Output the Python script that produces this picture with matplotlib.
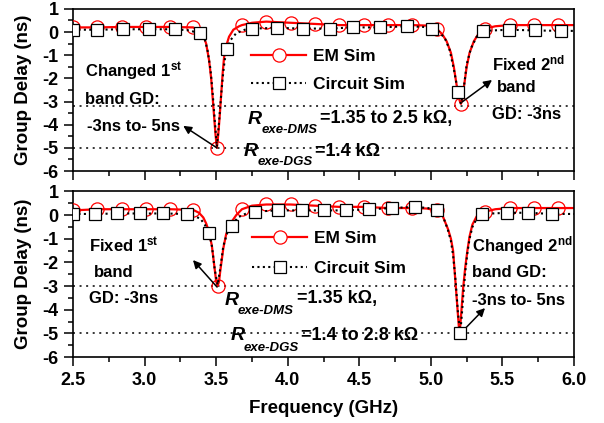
import matplotlib
matplotlib.use('Agg')
import matplotlib.pyplot as plt
from matplotlib.lines import Line2D
from matplotlib.ticker import MultipleLocator

plt.rcParams['font.family'] = ['Liberation Sans', 'DejaVu Sans']
plt.rcParams['font.weight'] = 'bold'
plt.rcParams['axes.unicode_minus'] = False
plt.rcParams['mathtext.fontset'] = 'custom'
plt.rcParams['mathtext.rm'] = 'Liberation Sans:bold'
plt.rcParams['mathtext.it'] = 'Liberation Sans:italic:bold'
plt.rcParams['mathtext.bf'] = 'Liberation Sans:bold'

# ---- dados (GHz, ns) ----
# grafico de cima: 1a banda variando, 2a banda fixa
f_em_top = [2.5, 2.67, 2.84, 3.01, 3.18, 3.34, 3.38, 3.41, 3.43, 3.45, 3.465, 3.475, 3.485, 3.495,
            3.505, 3.515, 3.525, 3.535, 3.545, 3.555, 3.57, 3.59, 3.62, 3.66, 3.68, 3.75, 3.85,
            4.02, 4.19, 4.36, 4.53, 4.70, 4.87, 4.97, 5.04, 5.08, 5.11, 5.14, 5.16, 5.18, 5.20,
            5.21, 5.22, 5.23, 5.25, 5.27, 5.30, 5.34, 5.38, 5.45, 5.55, 5.72, 5.89, 6.0]
gd_em_top = [0.2, 0.2, 0.22, 0.22, 0.22, 0.2, 0.05, -0.15, -0.5, -1.2, -2.0, -2.8, -3.6, -4.4,
             -5.0, -4.4, -3.6, -2.7, -1.8, -1.1, -0.6, -0.2, 0.1, 0.25, 0.3, 0.4, 0.45,
             0.4, 0.35, 0.3, 0.3, 0.3, 0.3, 0.28, 0.15, -0.1, -0.4, -0.9, -1.5, -2.3, -2.95,
             -3.1, -2.9, -2.4, -1.5, -0.9, -0.4, 0.0, 0.15, 0.25, 0.3, 0.3, 0.3, 0.3]
f_em_top_mk = [2.5, 2.67, 2.84, 3.01, 3.18, 3.34, 3.505, 3.68, 3.85, 4.02, 4.19, 4.36, 4.53,
               4.70, 4.87, 5.04, 5.21, 5.38, 5.55, 5.72, 5.89]
gd_em_top_mk = [0.2, 0.2, 0.22, 0.22, 0.22, 0.2, -5.0, 0.3, 0.45, 0.4, 0.35, 0.3, 0.3,
                0.3, 0.3, 0.15, -3.1, 0.15, 0.3, 0.3, 0.3]

f_ckt_top = [2.5, 2.67, 2.85, 3.03, 3.21, 3.30, 3.39, 3.42, 3.44, 3.46, 3.475, 3.49, 3.505,
             3.52, 3.535, 3.55, 3.56, 3.575, 3.60, 3.64, 3.70, 3.75, 3.925, 4.105, 4.295,
             4.455, 4.645, 4.83, 4.95, 5.005, 5.06, 5.10, 5.13, 5.16, 5.19, 5.21, 5.23, 5.25,
             5.28, 5.32, 5.365, 5.545, 5.725, 5.91, 6.0]
gd_ckt_top = [0.1, 0.1, 0.12, 0.12, 0.12, 0.08, -0.05, -0.3, -0.8, -1.6, -2.6, -3.8, -4.95,
              -3.9, -2.7, -1.7, -1.2, -0.75, -0.35, -0.05, 0.1, 0.15, 0.18, 0.15, 0.15,
              0.2, 0.2, 0.25, 0.22, 0.15, 0.0, -0.3, -0.75, -1.6, -2.6, -3.1, -2.4, -1.4,
              -0.7, -0.2, 0.05, 0.1, 0.07, 0.05, 0.05]
f_ckt_top_mk = [2.5, 2.67, 2.85, 3.03, 3.21, 3.39, 3.575, 3.75, 3.925, 4.105, 4.295, 4.455,
                4.645, 4.83, 5.005, 5.19, 5.365, 5.545, 5.725, 5.91]
gd_ckt_top_mk = [0.1, 0.1, 0.12, 0.12, 0.12, -0.05, -0.75, 0.15, 0.18, 0.15, 0.15, 0.2,
                 0.2, 0.25, 0.15, -2.6, 0.05, 0.1, 0.07, 0.05]

# grafico de baixo: 1a banda fixa, 2a banda variando
f_em_bot = [2.5, 2.67, 2.84, 3.01, 3.18, 3.34, 3.38, 3.41, 3.43, 3.45, 3.47, 3.49, 3.50, 3.51,
            3.52, 3.53, 3.55, 3.57, 3.60, 3.64, 3.68, 3.75, 3.85, 4.02, 4.19, 4.36, 4.53, 4.70,
            4.87, 4.97, 5.04, 5.08, 5.10, 5.12, 5.14, 5.155, 5.165, 5.175, 5.185, 5.195, 5.20,
            5.205, 5.215, 5.225, 5.24, 5.255, 5.27, 5.29, 5.32, 5.38, 5.45, 5.55, 5.72, 5.89, 6.0]
gd_em_bot = [0.2, 0.25, 0.25, 0.25, 0.25, 0.22, 0.1, -0.1, -0.35, -0.7, -1.3, -2.3, -2.8, -3.0,
             -2.8, -2.3, -1.4, -0.8, -0.35, 0.0, 0.25, 0.4, 0.45, 0.45, 0.4, 0.35, 0.35, 0.3,
             0.3, 0.28, 0.2, 0.0, -0.3, -0.6, -1.0, -1.5, -2.3, -3.1, -3.9, -4.7, -4.95,
             -4.7, -3.9, -3.1, -2.2, -1.5, -0.9, -0.4, -0.05, 0.15, 0.25, 0.3, 0.3, 0.3, 0.3]
f_em_bot_mk = [2.5, 2.67, 2.84, 3.01, 3.18, 3.34, 3.51, 3.68, 3.85, 4.02, 4.19, 4.36, 4.53,
               4.70, 4.87, 5.04, 5.38, 5.55, 5.72, 5.89]
gd_em_bot_mk = [0.2, 0.25, 0.25, 0.25, 0.25, 0.22, -3.0, 0.25, 0.45, 0.45, 0.4, 0.35, 0.35,
                0.3, 0.3, 0.2, 0.15, 0.3, 0.3, 0.3]

f_ckt_bot = [2.5, 2.655, 2.81, 2.97, 3.13, 3.296, 3.35, 3.39, 3.42, 3.45, 3.47, 3.49, 3.51,
             3.53, 3.55, 3.58, 3.61, 3.65, 3.72, 3.77, 3.93, 4.10, 4.25, 4.41, 4.57, 4.73,
             4.89, 4.98, 5.04, 5.08, 5.10, 5.12, 5.14, 5.155, 5.17, 5.18, 5.19, 5.205, 5.215,
             5.225, 5.24, 5.255, 5.27, 5.29, 5.32, 5.36, 5.53, 5.68, 5.845, 6.0]
gd_ckt_bot = [0.05, 0.05, 0.07, 0.07, 0.07, 0.05, -0.05, -0.15, -0.4, -0.75, -1.3, -2.3, -2.95,
              -2.2, -1.3, -0.7, -0.45, -0.1, 0.1, 0.15, 0.2, 0.2, 0.2, 0.2, 0.25, 0.3,
              0.35, 0.3, 0.2, 0.0, -0.3, -0.65, -1.1, -1.7, -2.6, -3.4, -4.2, -5.0, -4.3,
              -3.5, -2.4, -1.6, -1.0, -0.5, -0.15, 0.05, 0.1, 0.1, 0.05, 0.05]
f_ckt_bot_mk = [2.5, 2.655, 2.81, 2.97, 3.13, 3.296, 3.45, 3.61, 3.77, 3.93, 4.10, 4.25,
                4.41, 4.57, 4.73, 4.89, 5.04, 5.205, 5.36, 5.53, 5.68, 5.845]
gd_ckt_bot_mk = [0.05, 0.05, 0.07, 0.07, 0.07, 0.05, -0.75, -0.45, 0.15, 0.2, 0.2, 0.2,
                 0.2, 0.25, 0.3, 0.35, 0.2, -5.0, 0.05, 0.1, 0.1, 0.05]

ref_top = [-3.2, -5.0]
ref_bot = [-3.0, -5.0]

fig = plt.figure(figsize=(6.04, 4.23), dpi=100)
ax1 = fig.add_axes([0.1209, 0.5957, 0.8295, 0.3833])
ax2 = fig.add_axes([0.1209, 0.156, 0.8295, 0.3913])

ref_style = dict(color='k', lw=1.1, linestyle=(0, (1.3, 3.0)), zorder=1)


def desenha(ax, f_em, gd_em, f_em_mk, gd_em_mk, f_ck, gd_ck, f_ck_mk, gd_ck_mk, refs):
    for r in refs:
        ax.axhline(r, **ref_style)
    ax.plot(f_em, gd_em, color='red', lw=1.6, zorder=2)
    ax.plot(f_em_mk, gd_em_mk, ls='none', marker='o', ms=9.5, mfc='none', mec='red', mew=0.9, zorder=3)
    ax.plot(f_ck, gd_ck, color='k', lw=1.5, linestyle=(0, (1, 1.6)), zorder=4)
    ax.plot(f_ck_mk, gd_ck_mk, ls='none', marker='s', ms=8, mfc='white', mec='k', mew=0.9, zorder=5)
    ax.set_xlim(2.5, 6.0)
    ax.set_ylim(-6, 1)
    ax.xaxis.set_major_locator(MultipleLocator(0.5))
    ax.xaxis.set_minor_locator(MultipleLocator(0.25))
    ax.yaxis.set_major_locator(MultipleLocator(1))
    ax.yaxis.set_minor_locator(MultipleLocator(0.5))
    ax.tick_params(which='major', direction='out', length=6.5, width=1.1, labelsize=13, pad=4)
    ax.tick_params(which='minor', direction='out', length=3.5, width=1.1)
    for s in ax.spines.values():
        s.set_linewidth(1.2)
    ax.set_ylabel('Group Delay (ns)', fontsize=13.5, fontweight='bold')
    ax.yaxis.set_label_coords(-0.082, 0.5)
    h_em = Line2D([], [], color='red', lw=1.6, marker='o', ms=9.5, mfc='white', mec='red', mew=0.9)
    h_ck = Line2D([], [], color='k', lw=1.5, linestyle=(0, (1, 1.6)), marker='s', ms=8,
                  mfc='white', mec='k', mew=0.9)
    return h_em, h_ck


h_em, h_ck = desenha(ax1, f_em_top, gd_em_top, f_em_top_mk, gd_em_top_mk,
                     f_ckt_top, gd_ckt_top, f_ckt_top_mk, gd_ckt_top_mk, ref_top)
desenha(ax2, f_em_bot, gd_em_bot, f_em_bot_mk, gd_em_bot_mk,
        f_ckt_bot, gd_ckt_bot, f_ckt_bot_mk, gd_ckt_bot_mk, ref_bot)
ax1.tick_params(labelbottom=False)
ax2.set_xlabel('Frequency (GHz)', fontsize=13.5, fontweight='bold', labelpad=8)

ax1.legend([h_em, h_ck], ['EM Sim', 'Circuit Sim'], loc='upper left', bbox_to_anchor=(0.355, 0.752),
           frameon=False, fontsize=12.5, handlelength=3.2, handletextpad=0.4, labelspacing=0.71,
           borderpad=0, borderaxespad=0)
ax2.legend([h_em, h_ck], ['EM Sim', 'Circuit Sim'], loc='upper left', bbox_to_anchor=(0.357, 0.764),
           frameon=False, fontsize=12.5, handlelength=3.2, handletextpad=0.4, labelspacing=0.89,
           borderpad=0, borderaxespad=0)

txt = dict(fontsize=12, fontweight='bold', ha='left', va='center')
txt_r = dict(fontsize=13, fontweight='bold', ha='left', va='center')
r_big = dict(fontsize=14, fontweight='bold', style='italic', ha='left', va='center')
r_sub = dict(fontsize=9.5, fontweight='bold', style='italic', ha='left', va='center')
seta = dict(arrowstyle='-|>', color='k', lw=1.1, mutation_scale=12, shrinkA=0, shrinkB=0)

# textos do grafico de cima
ax1.text(2.584, -1.72, 'Changed 1$^{\\mathrm{st}}$', **txt)
ax1.text(2.584, -2.93, 'band GD:', **txt)
ax1.text(2.60, -4.09, '-3ns to- 5ns', **txt)
ax1.annotate('', xy=(3.27, -4.05), xytext=(3.505, -5.0), arrowprops=seta)
ax1.text(5.427, -1.34, 'Fixed 2$^{\\mathrm{nd}}$', **txt)
ax1.text(5.46, -2.41, 'band', **txt)
ax1.text(5.427, -3.58, 'GD: -3ns', **txt)
ax1.annotate('', xy=(5.427, -2.07), xytext=(5.218, -3.02), arrowprops=seta)
ax1.text(3.72, -3.79, 'R', **r_big)
ax1.text(3.82, -4.25, 'exe-DMS', **r_sub)
ax1.text(4.225, -3.75, '=1.35 to 2.5 kΩ,', **txt_r)
ax1.text(3.69, -5.17, 'R', **r_big)
ax1.text(3.79, -5.62, 'exe-DGS', **r_sub)
ax1.text(4.19, -5.17, '=1.4 kΩ', **txt_r)

# textos do grafico de baixo
ax2.text(2.61, -1.27, 'Fixed 1$^{\\mathrm{st}}$', **txt)
ax2.text(2.647, -2.41, 'band', **txt)
ax2.text(2.61, -3.51, 'GD: -3ns', **txt)
ax2.annotate('', xy=(3.338, -1.9), xytext=(3.506, -3.04), arrowprops=seta)
ax2.text(5.29, -1.27, 'Changed 2$^{\\mathrm{nd}}$', **txt)
ax2.text(5.29, -2.41, 'band GD:', **txt)
ax2.text(5.29, -3.59, '-3ns to- 5ns', **txt)
ax2.annotate('', xy=(5.378, -3.93), xytext=(5.21, -4.98), arrowprops=seta)
ax2.text(3.56, -3.59, 'R', **r_big)
ax2.text(3.65, -4.04, 'exe-DMS', **r_sub)
ax2.text(4.065, -3.51, '=1.35 kΩ,', **txt_r)
ax2.text(3.60, -5.07, 'R', **r_big)
ax2.text(3.69, -5.60, 'exe-DGS', **r_sub)
ax2.text(4.09, -5.07, '=1.4 to 2.8 kΩ', **txt_r)

fig.savefig('out.png', dpi=100)
